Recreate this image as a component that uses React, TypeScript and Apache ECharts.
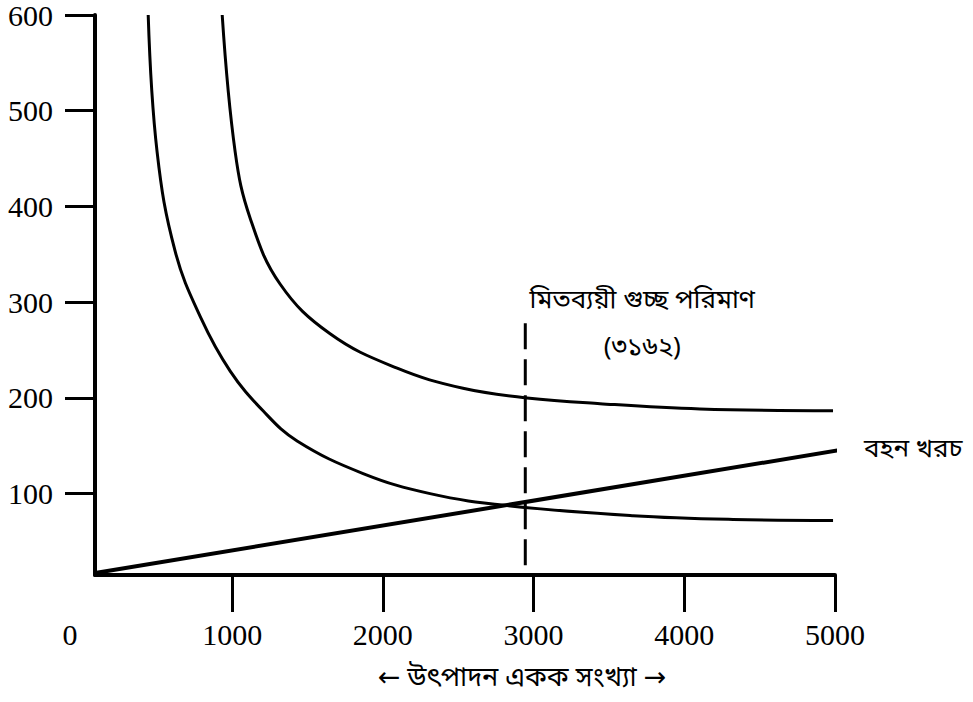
import { useEffect, useRef } from "react";
import * as echarts from "echarts";

// Axis ticks (tick labels)
const xTicks = [1000, 2000, 3000, 4000, 5000];
const yTicks = [100, 200, 300, 400, 500, 600];
const originLabel = "0";

// Lower curve
const lowerCurve: [number, number][] = [
  [443, 600], [502, 457], [622, 353], [794, 283], [987, 228], [1205, 186.5],
  [1431, 155], [1869, 121], [2313, 100], [2824, 87.5], [3660, 77], [4324, 73],
  [4987, 72],
];

// Upper curve
const upperCurve: [number, number][] = [
  [934, 600], [1020, 457], [1120, 387.5], [1318, 319], [1650, 267], [2095, 231],
  [2532, 210], [2957, 200], [3441, 194], [4104, 188.5], [4987, 186.5],
];

// Carrying cost line
const carryingCost: [number, number][] = [[91, 17], [5050, 146]];

// Economic lot size marker
const eoqX = 2945;
const eoqLine: [number, number][] = [[eoqX, 278], [eoqX, 15]];

const xAxisTitle = "← উৎপাদন একক সংখ্যা →";
const eoqTitle = "মিতব্যয়ী গুচ্ছ পরিমাণ";
const eoqValue = "(৩১৬২)";
const carryingLabel = "বহন খরচ";

const numFont = "'Liberation Serif', 'Times New Roman', serif";
const bnFont = "'Noto Sans Bengali', 'Noto Sans', 'DejaVu Sans', sans-serif";

export default function App() {
  const ref = useRef<HTMLDivElement>(null);
  useEffect(() => {
    if (!ref.current) return;
    const chart = echarts.init(ref.current, undefined, { renderer: "svg" });
    chart.setOption({
      animation: false,
      backgroundColor: "#fff",
      grid: { left: 95, right: 138, top: 13, bottom: 127, containLabel: false },
      xAxis: {
        type: "value",
        min: 90,
        max: 5000,
        splitLine: { show: false },
        axisLine: { show: true, onZero: false, lineStyle: { color: "#000", width: 4 } },
        axisTick: { show: true, customValues: xTicks, length: 37, lineStyle: { color: "#000", width: 3 } },
        axisLabel: {
          customValues: xTicks,
          margin: 44,
          formatter: (v: number) => String(v),
          fontFamily: numFont,
          fontSize: 30,
          color: "#000",
        },
        name: xAxisTitle,
        nameLocation: "middle",
        nameGap: 90,
        nameTextStyle: { fontFamily: bnFont, fontSize: 27, color: "#000", padding: [0, 0, 0, 114] },
      },
      yAxis: {
        type: "value",
        min: 15,
        max: 600,
        splitLine: { show: false },
        axisLine: { show: true, onZero: false, lineStyle: { color: "#000", width: 4 } },
        axisTick: { show: true, customValues: yTicks, length: 30, lineStyle: { color: "#000", width: 3 } },
        axisLabel: {
          customValues: yTicks,
          margin: 42,
          formatter: (v: number) => String(v),
          fontFamily: numFont,
          fontSize: 30,
          color: "#000",
        },
      },
      graphic: [
        {
          type: "text",
          x: 70,
          y: 634,
          style: { text: originLabel, align: "center", verticalAlign: "middle", font: `30px ${numFont}`, fill: "#000" },
        },
      ],
      series: [
        {
          type: "line",
          data: lowerCurve,
          smooth: 0.4,
          showSymbol: false,
          clip: false,
          lineStyle: { color: "#000", width: 3 },
        },
        {
          type: "line",
          data: upperCurve,
          smooth: 0.4,
          showSymbol: false,
          clip: false,
          lineStyle: { color: "#000", width: 3 },
        },
        {
          type: "line",
          data: carryingCost,
          showSymbol: false,
          clip: false,
          lineStyle: { color: "#000", width: 4 },
          endLabel: {
            show: true,
            formatter: carryingLabel,
            distance: 27,
            fontFamily: bnFont,
            fontSize: 26,
            color: "#000",
          },
        },
        {
          type: "line",
          showSymbol: true,
          symbol: "circle",
          symbolSize: 0,
          clip: false,
          itemStyle: { color: "#000" },
          lineStyle: { color: "#000", width: 3, type: [26, 10] },
          data: [
            {
              value: eoqLine[0],
              label: {
                show: true,
                position: "right",
                distance: 5,
                align: "center",
                offset: [112, 2],
                formatter: `${eoqTitle}\n${eoqValue}`,
                lineHeight: 47,
                fontFamily: bnFont,
                fontSize: 26,
                color: "#000",
              },
            },
            eoqLine[1],
          ],
        },
      ],
    });
    return () => chart.dispose();
  }, []);
  return <div ref={ref} style={{ position: "fixed", left: 0, top: 0, width: 973, height: 702 }} />;
}
